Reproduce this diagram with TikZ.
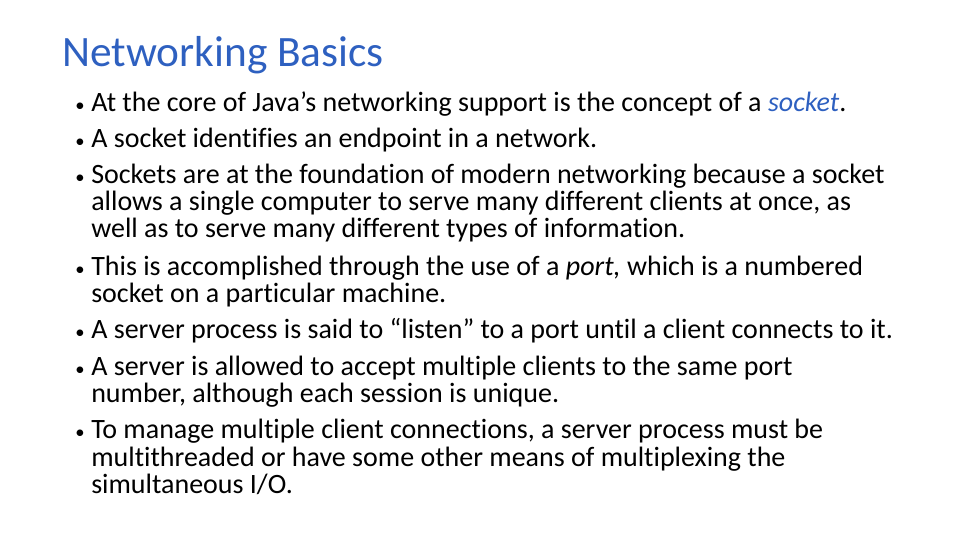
\documentclass[tikz,border=0pt]{standalone}
\usepackage{fontspec}
\setmainfont{Carlito}[Ligatures={NoCommon,NoRequired,NoContextual}]
\definecolor{titleblue}{HTML}{2E60C0}
\begin{document}
\begin{tikzpicture}[x=0.75pt,y=-0.75pt,
  ln/.style={anchor=base west,inner sep=0pt,font=\fontsize{21pt}{24pt}\selectfont},
  tt/.style={anchor=base west,inner sep=0pt,font=\fontsize{32.5pt}{36pt}\selectfont,text=titleblue}]
\useasboundingbox (0,0) rectangle (960,540);
\node[tt] (title) at (62,66) {Networking Basics};
\def\B{\makebox[16\dimexpr0.75pt\relax][l]{\fontsize{14pt}{16pt}\selectfont•}}
\node[ln] (l1) at (75,111) {\B At the core of Java’s networking support is the concept of a \textcolor{titleblue}{\textit{socket}}.};
\node[ln] (l2) at (75,147) {\B A socket identifies an endpoint in a network.};
\node[ln] (l3) at (75,183) {\B Sockets are at the foundation of modern networking because a socket};
\node[ln] (l4) at (91,210) {allows a single computer to serve many different clients at once, as};
\node[ln] (l5) at (91,237) {well as to serve many different types of information.};
\node[ln] (l6) at (75,275) {\B This is accomplished through the use of a \textit{port,} which is a numbered};
\node[ln] (l7) at (91,302) {socket on a particular machine.};
\node[ln] (l8) at (75,338) {\B A server process is said to “listen” to a port until a client connects to it.};
\node[ln] (l9) at (75,375) {\B A server is allowed to accept multiple clients to the same port};
\node[ln] (l10) at (91,402) {number, although each session is unique.};
\node[ln] (l11) at (75,438) {\B To manage multiple client connections, a server process must be};
\node[ln] (l12) at (91,466) {multithreaded or have some other means of multiplexing the};
\node[ln] (l13) at (91,493) {simultaneous I/O.};
\end{tikzpicture}
\end{document}
